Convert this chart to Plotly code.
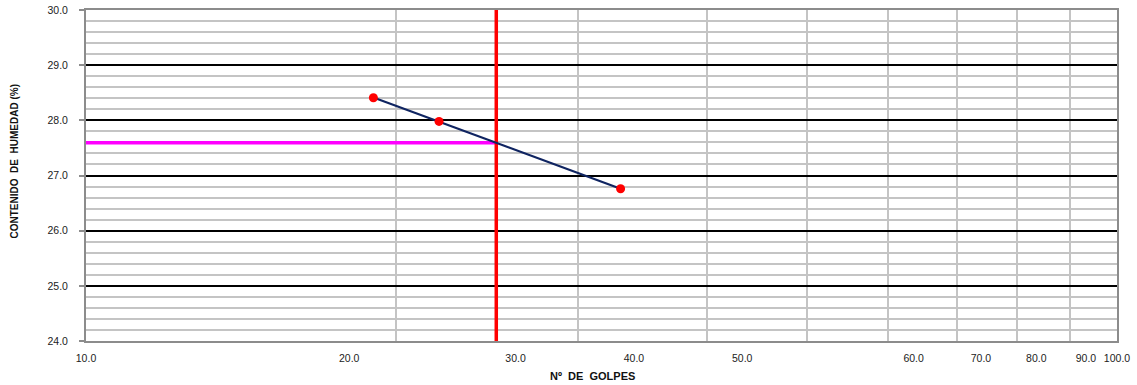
import numpy as np
import plotly.graph_objects as go

# Data
golpes = [19, 22, 33]
humedad = [28.41, 27.98, 26.76]
n_golpes_ref = 25

# Tick labels (as placed in the original chart)
x_label_text = ["10.0", "20.0", "30.0", "40.0", "50.0", "60.0", "70.0", "80.0", "90.0", "100.0"]
x_label_pos = [10, 18.0, 26.1, 34.0, 43.3, 63.5, 73.8, 83.5, 93.3, 100]
x_grid_vals = [20, 30, 40, 50, 60, 70, 80, 90]

# Log-linear trend line
lx = np.log10(golpes)
b, a = np.polyfit(lx, humedad, 1)
trend_x = np.array([min(golpes), max(golpes)])
trend_y = a + b * np.log10(trend_x)
w_ref = a + b * np.log10(n_golpes_ref)

fig = go.Figure()
# Magenta horizontal at LL
fig.add_trace(go.Scatter(x=[10, n_golpes_ref], y=[w_ref, w_ref], mode="lines",
                         line=dict(color="#FF00FF", width=3.5), hoverinfo="skip", showlegend=False))
# Red vertical at 25 blows
fig.add_trace(go.Scatter(x=[n_golpes_ref, n_golpes_ref], y=[24, 30], mode="lines",
                         line=dict(color="#FF0000", width=3.5), hoverinfo="skip", showlegend=False))
# Trend line
fig.add_trace(go.Scatter(x=trend_x, y=trend_y, mode="lines",
                         line=dict(color="#0F2461", width=2.2), showlegend=False))
# Points
fig.add_trace(go.Scatter(x=golpes, y=humedad, mode="markers",
                         marker=dict(color="#FF0000", size=9), showlegend=False))

font = "Liberation Sans, Arial, sans-serif"
fig.update_layout(
    width=1137, height=385,
    margin=dict(l=86, r=20, t=10, b=44),
    paper_bgcolor="white", plot_bgcolor="white",
    font=dict(family=font, size=10, color="#222222"),
    xaxis=dict(type="log", range=[1, 2], tickmode="array", tickvals=x_label_pos,
               ticktext=x_label_text, showgrid=False, ticks="", zeroline=False,
               automargin=False, ticklabelstandoff=6,
               showline=True, linecolor="#8C8C8C", linewidth=2, mirror=True,
               tickfont=dict(size=10.5, color="#222222"),
               minor=dict(tickmode="array", tickvals=x_grid_vals, showgrid=True,
                          gridcolor="#C4C4C4", gridwidth=1.8, ticks="")),
    yaxis=dict(range=[24, 30], dtick=1, tick0=24, tickformat=".1f", showgrid=True,
               gridcolor="#000000", gridwidth=1.5, zeroline=False,
               automargin=False, ticklabelstandoff=9,
               ticks="outside", ticklen=5, tickcolor="#8C8C8C", tickwidth=1.5,
               showline=True, linecolor="#8C8C8C", linewidth=2, mirror=True,
               tickfont=dict(size=10.5, color="#222222"),
               minor=dict(dtick=0.2, showgrid=True, gridcolor="#C4C4C4", gridwidth=1.5, ticks="")),
    annotations=[
        dict(text="<b>Nº  DE  GOLPES</b>", xref="paper", yref="paper", x=0.491, y=-0.106,
             showarrow=False, font=dict(size=11, color="#111111", family=font), yanchor="middle"),
        dict(text="<b>CONTENIDO  DE  HUMEDAD (%)</b>", xref="paper", yref="paper", x=-0.069, y=0.542,
             showarrow=False, textangle=-90, font=dict(size=10, color="#111111", family=font),
             xanchor="center", yanchor="middle"),
    ],
)

fig.write_html("out.html", config={"displayModeBar": False},
               post_script="document.body.style.margin='0px';")
